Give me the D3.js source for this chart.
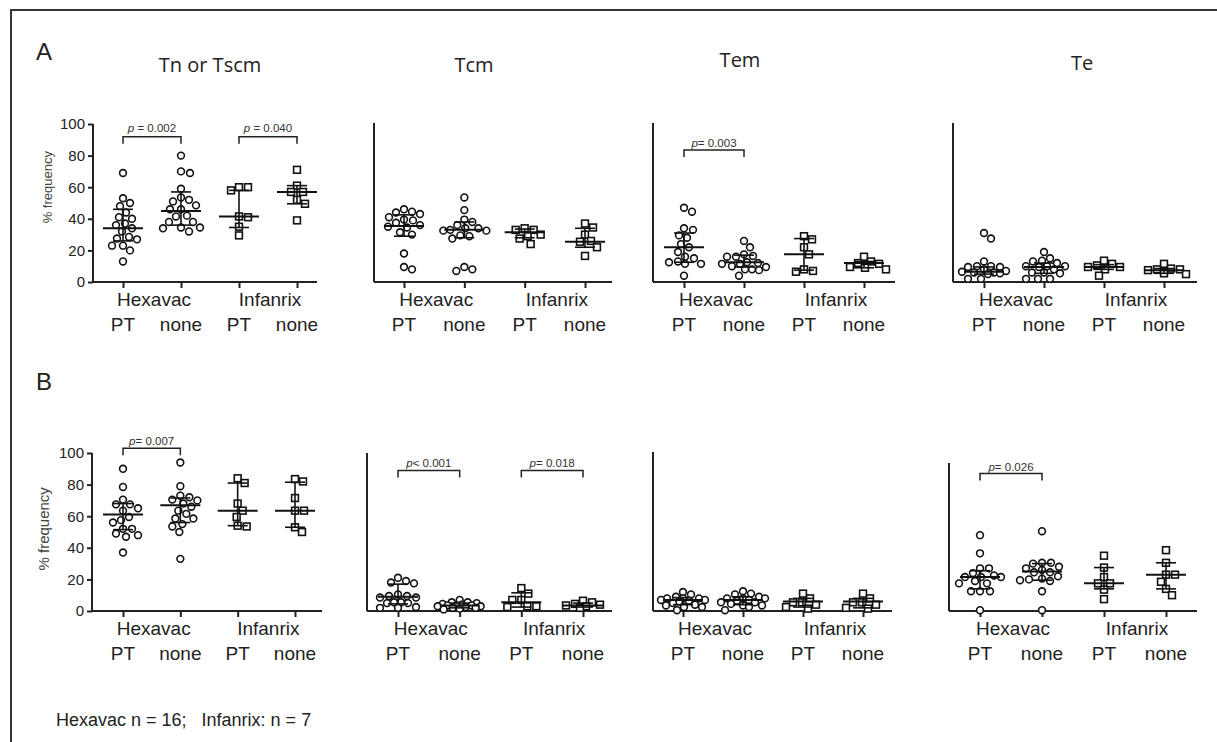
<!DOCTYPE html>
<html>
<head>
<meta charset="utf-8">
<script src="https://cdn.jsdelivr.net/npm/d3@7"></script>
<style>
  body { margin: 0; background: #fff; }
  text { font-family: "Liberation Sans", Arial, sans-serif; fill: #222; }
</style>
</head>
<body>
<div id="container"></div>
<script>
// categories
const groups = ["Hexavac PT", "Hexavac none", "Infanrix PT", "Infanrix none"];
const vaccines = ["Hexavac", "Infanrix"];
const treatments = ["PT", "none", "PT", "none"];
const subsets = ["Tn or Tscm", "Tcm", "Tem", "Te"];
const yTicks = [0, 20, 40, 60, 80, 100];

// row A: % frequency per group (Hexavac PT, Hexavac none, Infanrix PT, Infanrix none)
const tnA = [
  [69, 53, 50, 48, 44, 41, 40, 37, 36, 34, 32, 28.5, 27.5, 27, 23, 23, 20, 13],
  [80, 70, 69, 59, 53.5, 52, 51, 48.5, 46, 46, 42, 41.5, 38, 38, 34.5, 34.5, 34, 32],
  [60, 58, 60, 41.5, 41, 35, 29.5],
  [71, 61, 57, 57, 52, 49.5, 39]
];
const tcmA = [
  [44.5, 43, 46, 44, 39.5, 37.5, 39, 36, 35, 34.5, 31.5, 30, 18, 8, 9.5, 41],
  [53.5, 45.5, 38, 39.5, 36, 32.5, 32.5, 33, 34, 34, 29.5, 29, 27.5, 9.5, 7, 8],
  [34, 33, 33, 30, 29, 27.5, 24],
  [37, 34.5, 30, 26, 25.5, 22, 16.5]
];
const temA = [
  [44.5, 47, 29.5, 33, 34, 28, 16, 12.5, 11.5, 11.5, 15, 19, 22, 24, 4, 13],
  [26, 22, 16, 17.5, 16, 16.5, 12, 12.5, 11.5, 11.5, 8, 7.5, 8, 4, 9.5, 10],
  [22, 27, 29, 17.5, 8, 6.5, 7],
  [12, 11.5, 16, 13, 9.5, 8, 9]
];
const teA = [
  [27.5, 31, 13, 10, 10, 9.5, 9.5, 6.5, 6, 6, 5.5, 5, 2, 2, 7, 8],
  [19, 15, 13, 13.5, 10, 10, 10, 9.5, 6, 5.5, 6, 2, 2, 2, 8, 12],
  [13.5, 11.5, 10.5, 9.5, 9.5, 8, 4],
  [11.5, 8, 7.5, 8, 8.5, 5, 5.5]
];
// row B
const tnB = [
  [90, 78.5, 70.5, 67.5, 67.5, 65, 63.5, 59.5, 57.5, 56, 52, 52, 48, 47, 49, 37],
  [94, 79, 70.5, 73, 70, 72, 68, 66, 63.5, 61.5, 58.5, 58.5, 55, 53.5, 50, 33],
  [84, 81, 68, 63.5, 59.5, 53.5, 54],
  [83.5, 82, 71.5, 63.5, 63.5, 53, 50]
];
const tcmB = [
  [21, 19, 17.5, 18, 8.5, 9.5, 10.5, 9.5, 8.5, 5.5, 5.5, 5, 5, 2, 2.5, 2],
  [7, 5.5, 5.5, 3.5, 3, 3, 3.5, 3.5, 2, 1.5, 2.5, 4.5, 4, 2, 1, 5],
  [14.5, 11, 7, 7, 3, 3, 2.5],
  [6.5, 4.5, 4, 5.5, 3, 2, 3.5]
];
const temB = [
  [10.5, 12, 8, 7, 8, 8, 7, 3.5, 2.5, 2.5, 0.5, 6, 5, 9, 4, 6.5],
  [12.5, 10.5, 11, 8, 8, 8, 5.5, 5.5, 3.5, 3.5, 2.5, 0.5, 7, 6.5, 4.5, 9],
  [11, 8, 5.5, 5.5, 4, 1.5, 2.5],
  [11, 8, 5.5, 5.5, 4, 2, 1.5]
];
const teB = [
  [48, 36.5, 27, 27, 21.5, 21.5, 21.5, 22.5, 17.5, 17.5, 12.5, 12.5, 12.5, 0.5, 24, 19],
  [50.5, 30, 30.5, 30.5, 28, 27, 24.5, 24.5, 20.5, 19.5, 19, 20, 12.5, 0.5, 26, 22],
  [35, 27.5, 21.5, 17.5, 17.5, 13.5, 7.5],
  [38.5, 30.5, 23, 23, 18.5, 14, 10]
];

// median with interquartile range [q1, median, q3]
const tnAStats  = [[26, 34, 46], [36, 45, 57], [34.5, 41.5, 58], [49.5, 57, 61]];
const tcmAStats = [[29, 35.5, 42.5], [28, 33, 38], [28, 31.5, 33.5], [22, 25.5, 34]];
const temAStats = [[12.5, 22, 31], [9.5, 12.5, 17], [7.5, 17.5, 27.5], [9, 12, 13]];
const teAStats  = [[5, 6.5, 9.5], [5.5, 9.5, 12], [8, 9.5, 11], [5.5, 7.5, 8.5]];
const tnBStats  = [[51.5, 61, 68], [56, 67, 71.5], [54, 63.5, 81], [53, 63.5, 81.5]];
const tcmBStats = [[4.5, 9, 17], [2, 3.5, 5], [2.5, 5.5, 11.5], [2.5, 3.5, 5]];
const temBStats = [[4, 7, 8.5], [4, 7, 9], [2.5, 6, 8], [2, 6, 8]];
const teBStats  = [[14, 21.5, 25.5], [19.5, 25, 30], [14, 17.5, 27.5], [14, 23, 30.5]];

// significance brackets: panel index, groups compared, label after "p", height in % units
const pPanels = [0, 0, 2, 4, 5, 5, 7];
const pPairs = [[0, 1], [2, 3], [0, 1], [0, 1], [0, 1], [2, 3], [0, 1]];
const pLabels = [" = 0.002", " = 0.040", "= 0.003", "= 0.007", "< 0.001", "= 0.018", "= 0.026"];
const pLevels = [92, 92, 83.5, 103, 89, 89, 87];

const width = 1217, height = 742;

const panels = [
  {data: tnA,  stats: tnAStats,  base: 282, top: 124, x0: 93,  x1: 317,  c0: 123, c3: 297, yAxis: true},
  {data: tcmA, stats: tcmAStats, base: 282, top: 123, x0: 374, x1: 612,  c0: 404, c3: 585},
  {data: temA, stats: temAStats, base: 282, top: 123, x0: 653, x1: 895,  c0: 684, c3: 864},
  {data: teA,  stats: teAStats,  base: 282, top: 123, x0: 953, x1: 1197, c0: 984, c3: 1164},
  {data: tnB,  stats: tnBStats,  base: 611, top: 453, x0: 92,  x1: 322,  c0: 123, c3: 295, yAxis: true},
  {data: tcmB, stats: tcmBStats, base: 611, top: 453, x0: 367, x1: 612,  c0: 398, c3: 583},
  {data: temB, stats: temBStats, base: 611, top: 452, x0: 653, x1: 892,  c0: 683, c3: 863},
  {data: teB,  stats: teBStats,  base: 611, top: 463, x0: 949, x1: 1197, c0: 980, c3: 1166}
];
const titleX = [210, 474, 740, 1082], titleY = [72, 72, 67, 70];

const svg = d3.select("#container")
  .append("svg")
    .attr("width", width)
    .attr("height", height);

// frame (top and left edge)
svg.append("path")
  .attr("d", "M11," + height + "V10H" + width)
  .attr("fill", "none")
  .attr("stroke", "#333")
  .attr("stroke-width", 2);

svg.append("text").attr("x", 36).attr("y", 60).style("font-size", "24px").text("A");
svg.append("text").attr("x", 36).attr("y", 390).style("font-size", "24px").text("B");

svg.selectAll(".title")
  .data(subsets)
  .join("text")
    .attr("class", "title")
    .attr("x", (d, i) => titleX[i])
    .attr("y", (d, i) => titleY[i])
    .attr("text-anchor", "middle")
    .style("font-family", "'Open Sans', sans-serif")
    .style("font-size", "20px")
    .text(d => d);

svg.append("text")
  .attr("x", 56).attr("y", 726)
  .attr("xml:space", "preserve")
  .style("font-size", "18px")
  .text("Hexavac n = 16;   Infanrix: n = 7");

// dodge layout: spread points sideways, let them overlap once the column is full
function swarm(vals, y, cx, d, maxOff) {
  const placed = [];
  vals.map(v => ({v: v, y: y(v)}))
    .sort((a, b) => a.y - b.y)
    .forEach(p => {
      let dd = d;
      while (p.x === undefined) {
        for (let k = 0; k < 200; k++) {
          const off = k === 0 ? 0 : (k % 2 ? (k + 1) / 2 : -k / 2);
          if (Math.abs(off) > maxOff) break;
          const px = cx + off;
          if (placed.every(q => (q.x - px) ** 2 + (q.y - p.y) ** 2 >= dd * dd)) {
            p.x = px;
            break;
          }
        }
        dd *= 0.85;
      }
      placed.push(p);
    });
  return placed;
}

const panelScales = [];

panels.forEach((P, pi) => {
  const g = svg.append("g");
  const y = d3.scaleLinear().domain([0, 100]).range([P.base, P.base - 158]);
  const x = d3.scalePoint().domain(groups).range([P.c0, P.c3]);
  panelScales.push({x: x, y: y});

  // axes
  g.append("line")
    .attr("x1", P.x0).attr("x2", P.x1)
    .attr("y1", P.base).attr("y2", P.base)
    .attr("stroke", "#222").attr("stroke-width", 2);
  g.append("line")
    .attr("x1", P.x0).attr("x2", P.x0)
    .attr("y1", P.base).attr("y2", P.top)
    .attr("stroke", "#222").attr("stroke-width", 2);

  const xa = g.append("g")
    .attr("transform", "translate(0," + P.base + ")")
    .call(d3.axisBottom(x).tickSize(6).tickFormat(""));
  xa.select(".domain").remove();
  xa.selectAll("line").attr("stroke", "#222").attr("stroke-width", 2);

  if (P.yAxis) {
    const ya = g.append("g")
      .attr("transform", "translate(" + P.x0 + ",0)")
      .call(d3.axisLeft(y).tickValues(yTicks).tickSize(5).tickPadding(3));
    ya.select(".domain").remove();
    ya.selectAll("line").attr("stroke", "#222").attr("stroke-width", 2);
    ya.selectAll("text")
      .style("font-family", "'Liberation Sans', Arial, sans-serif")
      .style("font-size", "15px")
      .attr("fill", "#222");
    g.append("text")
      .attr("transform", "translate(" + (P.x0 - (pi === 0 ? 41 : 43)) + "," + y(pi === 0 ? 60 : 52) + ") rotate(-90)")
      .attr("text-anchor", "middle")
      .style("font-size", pi === 0 ? "13px" : "15px")
      .style("fill", "#444")
      .text("% frequency");
  }

  // category labels
  g.selectAll(".trt")
    .data(treatments)
    .join("text")
      .attr("x", (d, i) => x(groups[i]))
      .attr("y", P.base + 49)
      .attr("text-anchor", "middle")
      .style("font-size", "19px")
      .text(d => d);
  g.selectAll(".vac")
    .data(vaccines)
    .join("text")
      .attr("x", (d, i) => (x(groups[2 * i]) + x(groups[2 * i + 1])) / 2 + 2)
      .attr("y", P.base + 24)
      .attr("text-anchor", "middle")
      .style("font-size", "19px")
      .text(d => d);

  // points
  P.data.forEach((vals, gi) => {
    const pts = swarm(vals, y, x(groups[gi]), 8.2, 22);
    const isSquare = gi >= 2;
    if (isSquare) {
      g.append("g").selectAll("rect")
        .data(pts)
        .join("rect")
          .attr("x", d => d.x - 3.4).attr("y", d => d.y - 3.4)
          .attr("width", 6.8).attr("height", 6.8)
          .attr("fill", "#fff").attr("stroke", "#111").attr("stroke-width", 1.6);
    } else {
      g.append("g").selectAll("circle")
        .data(pts)
        .join("circle")
          .attr("cx", d => d.x).attr("cy", d => d.y).attr("r", 3.4)
          .attr("fill", "#fff").attr("stroke", "#111").attr("stroke-width", 1.6);
    }
  });

  // median and interquartile range
  const sg = g.append("g").attr("stroke", "#111").attr("fill", "none");
  P.stats.forEach((s, gi) => {
    const cx = x(groups[gi]);
    sg.append("line")
      .attr("x1", cx - 20).attr("x2", cx + 20)
      .attr("y1", y(s[1])).attr("y2", y(s[1]))
      .attr("stroke-width", 2);
    sg.append("line")
      .attr("x1", cx).attr("x2", cx)
      .attr("y1", y(s[0])).attr("y2", y(s[2]))
      .attr("stroke-width", 1.6);
    [s[0], s[2]].forEach(v => {
      sg.append("line")
        .attr("x1", cx - 10).attr("x2", cx + 10)
        .attr("y1", y(v)).attr("y2", y(v))
        .attr("stroke-width", 1.6);
    });
  });
});

// significance brackets
pPanels.forEach((pi, k) => {
  const s = panelScales[pi];
  const xa = s.x(groups[pPairs[k][0]]), xb = s.x(groups[pPairs[k][1]]);
  const yy = s.y(pLevels[k]);
  svg.append("path")
    .attr("d", "M" + xa + "," + (yy + 7) + "V" + yy + "H" + xb + "V" + (yy + 7))
    .attr("fill", "none").attr("stroke", "#222").attr("stroke-width", 1.5);
  const t = svg.append("text")
    .attr("x", (xa + xb) / 2)
    .attr("y", yy - (pi === 0 ? 5 : 3))
    .attr("text-anchor", "middle")
    .attr("xml:space", "preserve")
    .style("font-size", "11.5px")
    .style("fill", "#333");
  t.append("tspan").style("font-style", "italic").text("p");
  t.append("tspan").text(pLabels[k]);
});
</script>
</body>
</html>
